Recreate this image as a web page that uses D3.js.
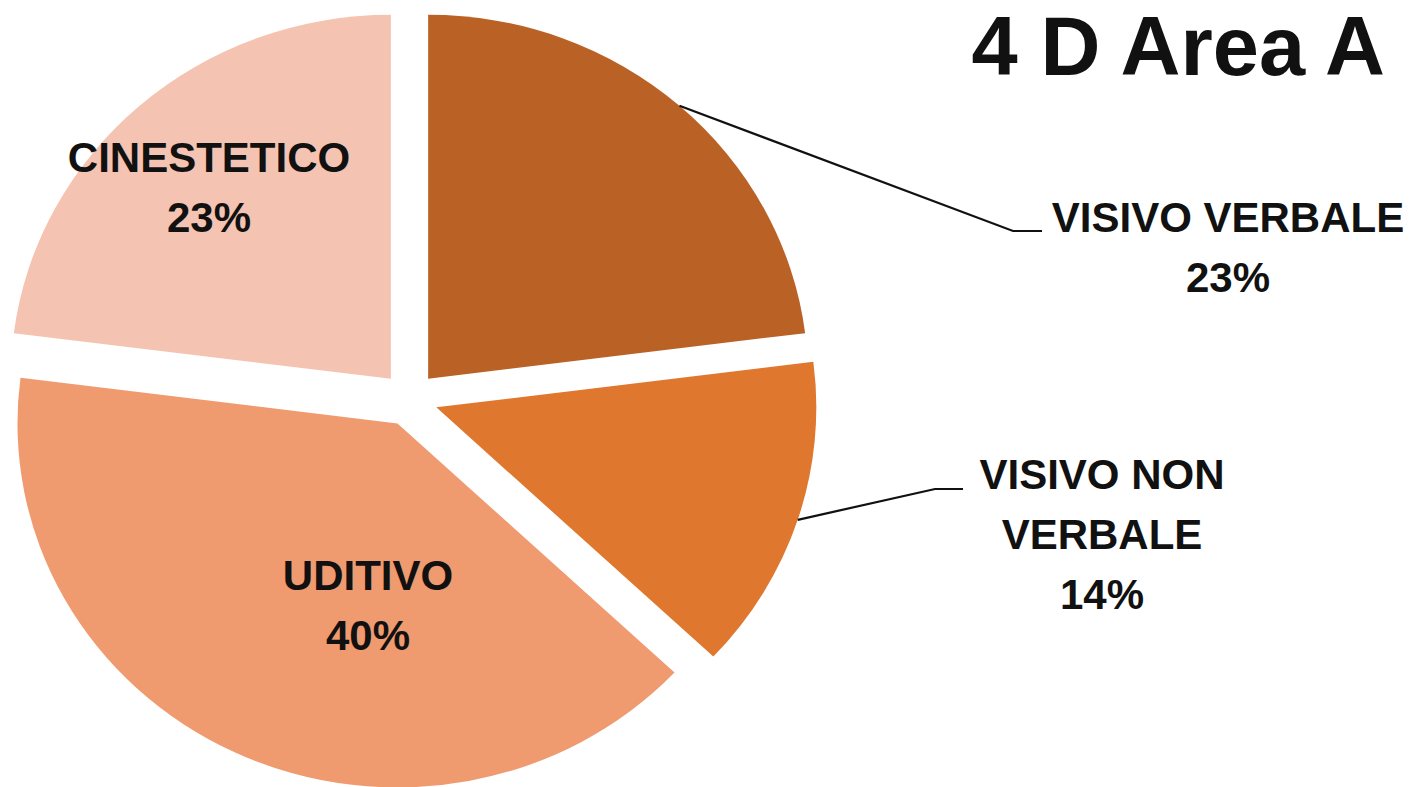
<!DOCTYPE html>
<html>
<head>
<meta charset="utf-8">
<script src="https://cdn.jsdelivr.net/npm/d3@7/dist/d3.min.js"></script>
<style>
  html, body { margin: 0; padding: 0; background: #fff; }
  svg { display: block; }
  text { font-family: "Liberation Sans", Arial, sans-serif; font-weight: bold; fill: #111; }
</style>
</head>
<body>
<svg id="chart" width="1416" height="787"></svg>
<script>
// ---- data ----
const categories = ["VISIVO VERBALE", "VISIVO NON VERBALE", "UDITIVO", "CINESTETICO"];
const labelLines = [["VISIVO VERBALE"], ["VISIVO NON", "VERBALE"], ["UDITIVO"], ["CINESTETICO"]];
const values = [23, 14, 40, 23];
const percentLabels = ["23%", "14%", "40%", "23%"];
const colors = ["#BA6226", "#E0772E", "#F09A6F", "#F5C3B1"];
const title = "4 D Area A";

// ---- layout ----
const W = 1416, H = 787;
const cx = 409.5, cy = 399, r = 364, sx = 1.044, explode = 27;
const lineH = 60;
// label anchor (center x, first baseline y); leader elbow points for outside labels
const labelLayout = [
  { x: 1228, y: 232, elbow: [1013, 231], end: [1042, 231] },
  { x: 1102, y: 489, elbow: [935, 489], end: [963, 489] },
  { x: 368, y: 590 },
  { x: 209, y: 172 }
];

const svg = d3.select("#chart");
svg.append("rect").attr("width", W).attr("height", H).attr("fill", "#fff");

const pie = d3.pie().sort(null).value(d => d)(values);
const arc = d3.arc().innerRadius(0).outerRadius(r);

// map a point in pie space to screen
function toScreen(px, py) { return [cx + px * sx, cy + py]; }

const g = svg.append("g").attr("transform", `translate(${cx},${cy}) scale(${sx},1)`);
g.selectAll("path")
  .data(pie)
  .enter().append("path")
  .attr("d", arc)
  .attr("fill", (d, i) => colors[i])
  .attr("transform", d => {
    const m = (d.startAngle + d.endAngle) / 2;
    return `translate(${Math.sin(m) * explode},${-Math.cos(m) * explode})`;
  });

// leader lines
pie.forEach((d, i) => {
  const L = labelLayout[i];
  if (!L.elbow) return;
  const m = (d.startAngle + d.endAngle) / 2;
  const rr = r + explode;
  const s = toScreen(Math.sin(m) * rr, -Math.cos(m) * rr);
  svg.append("polyline")
    .attr("points", [s, L.elbow, L.end].map(p => p.join(",")).join(" "))
    .attr("fill", "none")
    .attr("stroke", "#111")
    .attr("stroke-width", 2.2);
});

// labels
pie.forEach((d, i) => {
  const L = labelLayout[i];
  const lines = labelLines[i].concat([percentLabels[i]]);
  const t = svg.append("text")
    .attr("text-anchor", "middle")
    .attr("font-size", 42);
  lines.forEach((ln, k) => {
    t.append("tspan").attr("x", L.x).attr("y", L.y + k * lineH).text(ln);
  });
});

// title
svg.append("text")
  .attr("x", 1385).attr("y", 75)
  .attr("text-anchor", "end")
  .attr("font-size", 83)
  .text(title);
</script>
</body>
</html>
